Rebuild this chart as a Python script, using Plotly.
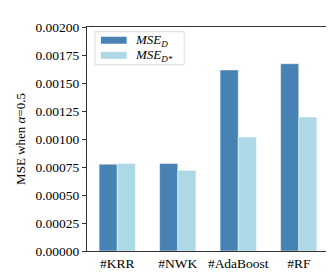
import plotly.graph_objects as go

categories = ["#KRR", "#NWK", "#AdaBoost", "#RF"]
mse_d = [0.000775, 0.000782, 0.001616, 0.001672]
mse_dstar = [0.000782, 0.00072, 0.001017, 0.001197]
yticks = [i * 0.00025 for i in range(9)]
ytick_labels = [f"{v:.5f}" for v in yticks]
legend_names = ["<i>MSE<sub>D</sub></i>", "<i>MSE<sub>D*</sub></i>"]
colors = ["#4682B4", "#ADD8E6"]

FF = "Liberation Serif"
W, H = 334, 275
ML, MR, MT, MB = 78, 12, 13, 25
PW, PH = W - ML - MR, H - MT - MB


def px_x(x):
    return (x - ML) / PW


def px_y(y):
    return (H - MB - y) / PH


fig = go.Figure()
for name, vals, col in zip(legend_names, [mse_d, mse_dstar], colors):
    fig.add_trace(go.Bar(
        x=categories, y=vals, name=name, showlegend=False,
        marker=dict(color=col, line=dict(color="rgba(255,255,255,0.6)", width=0.8)),
    ))

# custom legend (wide rectangle swatches like the reference)
x0, x1, y0, y1 = px_x(86), px_x(176), px_y(53), px_y(18)
fig.add_shape(type="rect", xref="paper", yref="paper", x0=x0, x1=x1, y0=y0, y1=y1,
              line=dict(color="#DDDDDD", width=1), fillcolor="white", layer="above")
for i, (name, col) in enumerate(zip(legend_names, colors)):
    top = 23.3 + i * 16
    fig.add_shape(type="rect", xref="paper", yref="paper",
                  x0=px_x(92), x1=px_x(118), y0=px_y(top + 7.4), y1=px_y(top),
                  line=dict(width=0), fillcolor=col, layer="above")
    fig.add_annotation(xref="paper", yref="paper", x=px_x(124), y=px_y(top + 3.7),
                       text=name, showarrow=False, xanchor="left", yanchor="middle",
                       font=dict(family=FF, size=13, color="black"))

fig.update_layout(
    width=W, height=H,
    margin=dict(l=ML, r=MR, t=MT, b=MB),
    barmode="group", bargap=0.4, bargroupgap=0,
    plot_bgcolor="white", paper_bgcolor="white",
    font=dict(family=FF, size=13, color="black"),
    showlegend=False,
)
fig.update_xaxes(
    range=[-0.5, 3.5], showline=True, linecolor="#333333", linewidth=1,
    mirror=True, ticks="", showgrid=False,
    tickfont=dict(family=FF, size=13.5, color="black"),
)
fig.update_yaxes(
    range=[0, 0.002], tickvals=yticks, ticktext=ytick_labels,
    showline=True, linecolor="#333333", linewidth=1, mirror=True,
    ticks="outside", ticklen=4, tickcolor="#333333", showgrid=False, zeroline=False,
    tickfont=dict(family=FF, size=13.5, color="black"),
    title=dict(text="MSE when <i>α</i>=0.5", font=dict(family=FF, size=13, color="black"), standoff=6),
)

fig.write_html("out.html")
